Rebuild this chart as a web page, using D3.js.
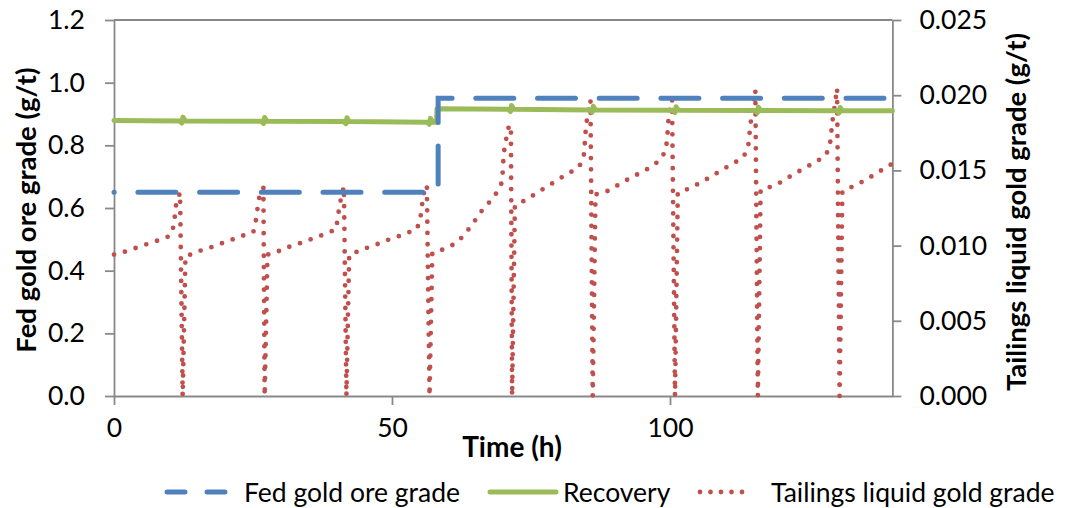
<!DOCTYPE html>
<html lang="en">
<meta charset="utf-8">
<style>
  body { margin: 0; background: #fff; }
  text { font-family: Lato, "Open Sans", sans-serif; fill: #000; }
</style>
<body>
<svg width="1069" height="508"></svg>
<script src="https://d3js.org/d3.v7.min.js"></script>
<script>
// feed grade (left axis, g/t)
let fedT = [0, 58.3, 58.3, 140]
let fedV = [0.65, 0.65, 0.95, 0.95]

// recovery (left axis, fraction)
let recT = [0, 11.8, 12.2, 12.4, 12.8, 26.5, 26.9, 27.1, 27.5, 41.3, 41.7, 41.9, 42.3,
            56.3, 56.7, 56.9, 57.3, 58.0, 58.1, 70.9, 71.3, 71.5, 71.9, 85.6, 86.0, 86.2, 86.6,
            100.5, 100.9, 101.1, 101.5, 115.3, 115.7, 115.9, 116.3, 130.0, 130.4, 130.6, 131.0, 140]
let recV = [0.879, 0.878, 0.871, 0.890, 0.878, 0.877, 0.870, 0.889, 0.877, 0.876, 0.869, 0.888, 0.876,
            0.874, 0.867, 0.886, 0.874, 0.874, 0.917, 0.915, 0.908, 0.927, 0.915, 0.913, 0.906, 0.925, 0.913,
            0.912, 0.905, 0.923, 0.912, 0.911, 0.904, 0.922, 0.911, 0.910, 0.903, 0.921, 0.910, 0.910]

// tailings liquid grade (right axis, g/t)
let tailT = [0, 2.57, 4.55, 6.53, 8.1, 10.07, 10.74, 10.98, 11.21, 11.88, 12.35, 12.85,
             13.5, 15.48, 17.46, 19.2, 21.18, 23.16, 25.07, 25.5, 25.79, 26.1, 26.87, 27.1, 27.6,
             29.28, 30.29, 32.16, 34.19, 36.17, 38.1, 39.95, 40.25, 40.55, 40.95, 41.35, 41.8, 42.3,
             43.06, 44.99, 46.97, 48.89, 50.87, 52.49, 54.47, 55.07, 55.37, 55.55, 56.27, 56.75, 57.25,
             59.38, 61.36, 62.86, 64.66, 65.86, 67.25, 68.56, 69.64, 69.9, 70.0, 70.18, 70.54, 70.96, 71.39, 71.6, 72.1,
             74.45, 76.36, 78.15, 79.95, 81.75, 83.55, 84.45, 84.63, 84.76, 84.94, 85.7, 86.1, 86.6,
             88.84, 90.64, 92.44, 94.24, 96.15, 98.25, 99.28, 99.46, 99.64, 99.75, 100.36, 100.9, 101.4,
             103.78, 105.58, 107.56, 109.65, 111.45, 113.25, 114.04, 114.27, 114.45, 114.76, 115.35, 115.8, 116.3,
             119.08, 120.75, 122.55, 124.35, 126.15, 127.95, 128.72, 128.97, 129.16, 129.44, 130.05, 130.5, 131.0,
             133.65, 135.45, 137.25, 139.05, 140]
let tailV = [0.0094, 0.00966, 0.00993, 0.01017, 0.01037, 0.01064, 0.0113, 0.01208, 0.01285, 0.01352, 0, 0.0093,
             0.00937, 0.00966, 0.00989, 0.01013, 0.01039, 0.01066, 0.01092, 0.01164, 0.01241, 0.01316, 0.01385, 0, 0.0094,
             0.00955, 0.00979, 0.00999, 0.01026, 0.01053, 0.01079, 0.01108, 0.01186, 0.01263, 0.01335, 0.01392, 0, 0.0094,
             0.00949, 0.00979, 0.01004, 0.01033, 0.01057, 0.01082, 0.01108, 0.01175, 0.01252, 0.0133, 0.01403, 0, 0.0095,
             0.00977, 0.01013, 0.01064, 0.01152, 0.01219, 0.01277, 0.01336, 0.01408, 0.01481, 0.01554, 0.01631, 0.01709, 0.01784, 0.01802, 0, 0.01265,
             0.01312, 0.01358, 0.01398, 0.01441, 0.01481, 0.01518, 0.0158, 0.01654, 0.01729, 0.01809, 0.01968, 0, 0.0134,
             0.01364, 0.01403, 0.01441, 0.01476, 0.01514, 0.01569, 0.01636, 0.01713, 0.0178, 0.01857, 0.02008, 0, 0.0135,
             0.01385, 0.01421, 0.01463, 0.0151, 0.01547, 0.01592, 0.01652, 0.01729, 0.01802, 0.0188, 0.02035, 0, 0.0137,
             0.01403, 0.01441, 0.01481, 0.01518, 0.01556, 0.01596, 0.01658, 0.01736, 0.01814, 0.0188, 0.02046, 0, 0.0136,
             0.01407, 0.01442, 0.01484, 0.01524, 0.01545]

let xTicks = [0, 50, 100]
let leftTicks = [0, 0.2, 0.4, 0.6, 0.8, 1.0, 1.2]
let rightTicks = [0, 0.005, 0.010, 0.015, 0.020, 0.025]
let seriesNames = ['Fed gold ore grade', 'Recovery', 'Tailings liquid gold grade']

let svg = d3.select('svg')
let axisColor = '#898989'

let x = d3.scaleLinear().domain([0, 140]).range([114, 892.4])
let yL = d3.scaleLinear().domain([0, 1.2]).range([396, 20])
let yR = d3.scaleLinear().domain([0, 0.025]).range([396, 20])

// top border of plot area
svg.append('line')
   .attr('x1', x(0)).attr('x2', x(140))
   .attr('y1', yL(1.2)).attr('y2', yL(1.2))
   .attr('stroke', axisColor).attr('stroke-width', 1.8)

function styleAxis(g) {
  g.selectAll('path,line').attr('stroke', axisColor).attr('stroke-width', 1.8)
  g.selectAll('text').attr('font-size', 26.5).attr('font-family', 'Lato').attr('fill', '#000')
}

svg.append('g').attr('transform', `translate(0,${yL(0)})`)
   .call(d3.axisBottom(x).tickValues(xTicks).tickSize(9).tickSizeOuter(0).tickPadding(13))
   .call(styleAxis)
svg.append('g').attr('transform', `translate(${x(0)},0)`)
   .call(d3.axisLeft(yL).tickValues(leftTicks).tickFormat(d3.format('.1f')).tickSize(9).tickSizeOuter(0).tickPadding(20))
   .call(styleAxis)
svg.append('g').attr('transform', `translate(${x(140)},0)`)
   .call(d3.axisRight(yR).tickValues(rightTicks).tickFormat(d3.format('.3f')).tickSize(9).tickSizeOuter(0).tickPadding(18))
   .call(styleAxis)

// axis titles
svg.append('text').attr('x', 512).attr('y', 457).attr('text-anchor', 'middle')
   .attr('font-size', 28).attr('font-weight', 'bold').text('Time (h)')
svg.append('text').attr('transform', 'translate(25,210) rotate(-90)').attr('text-anchor', 'middle')
   .attr('dominant-baseline', 'central').attr('font-size', 27.5).attr('font-weight', 'bold')
   .text('Fed gold ore grade (g/t)')
svg.append('text').attr('transform', 'translate(1015,212) rotate(-90)').attr('text-anchor', 'middle')
   .attr('dominant-baseline', 'central').attr('font-size', 27.5).attr('font-weight', 'bold')
   .text('Tailings liquid gold grade (g/t)')

// series
let tailLine = d3.line().x(i => x(tailT[i])).y(i => yR(tailV[i]))
let recLine = d3.line().x(i => x(recT[i])).y(i => yL(recV[i]))
let fedLine = d3.line().x(i => x(fedT[i])).y(i => yL(fedV[i]))

svg.append('path').attr('d', tailLine(d3.range(tailT.length)))
   .attr('fill', 'none').attr('stroke', '#C0504D').attr('stroke-width', 4.8)
   .attr('stroke-linecap', 'round').attr('stroke-dasharray', '0 11.3')
svg.append('path').attr('d', recLine(d3.range(recT.length)))
   .attr('fill', 'none').attr('stroke', '#9BBB59').attr('stroke-width', 5)
   .attr('stroke-linejoin', 'round').attr('stroke-linecap', 'round')
svg.append('path').attr('d', fedLine(d3.range(fedT.length)))
   .attr('fill', 'none').attr('stroke', '#4F81BD').attr('stroke-width', 5)
   .attr('stroke-linecap', 'round').attr('stroke-dasharray', '38 23.7').attr('stroke-dashoffset', 37.8)

// legend
let legend = [
  {sx: 165, ex: 227, tx: 244, color: '#4F81BD', dash: '18 22', w: 5},
  {sx: 488, ex: 558, tx: 563, color: '#9BBB59', dash: null, w: 5},
  {sx: 698, ex: 752, tx: 771, color: '#C0504D', dash: '0 10.5', w: 4.8}
]
let lg = svg.append('g').selectAll('g').data(legend).enter().append('g')
lg.append('line')
  .attr('x1', d => d.sx + 2).attr('x2', d => d.ex - 2).attr('y1', 492).attr('y2', 492)
  .attr('stroke', d => d.color).attr('stroke-width', d => d.w)
  .attr('stroke-linecap', 'round').attr('stroke-dasharray', d => d.dash)
lg.append('text').attr('x', d => d.tx).attr('y', 492).attr('dominant-baseline', 'central')
  .attr('font-size', 26.5).text((d, i) => seriesNames[i])
</script>
</body>
</html>
